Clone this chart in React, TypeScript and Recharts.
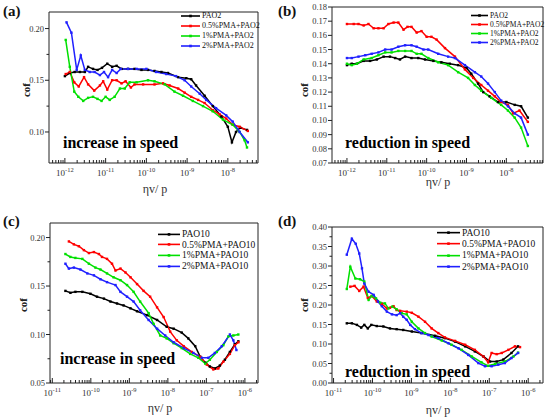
import { LineChart, Line, XAxis, YAxis, Legend } from "recharts";

const SERIF = '"Liberation Serif", "Times New Roman", serif';
const AX = "#222";

const COLORS = ["#000000", "#ff0000", "#00e000", "#2020ff"];
const NAMES_PAO2 = ["PAO2", "0.5%PMA+PAO2", "1%PMA+PAO2", "2%PMA+PAO2"];
const NAMES_PAO10 = ["PAO10", "0.5%PMA+PAO10", "1%PMA+PAO10", "2%PMA+PAO10"];

// x tick exponents and y ticks
const X_TICKS_AB = [-12, -11, -10, -9, -8];
const X_TICKS_CD = [-11, -10, -9, -8, -7, -6];
const Y_TICKS_A = [0.1, 0.15, 0.2];
const Y_TICKS_B = [0.07, 0.08, 0.09, 0.1, 0.11, 0.12, 0.13, 0.14, 0.15, 0.16, 0.17, 0.18];
const Y_TICKS_C = [0.05, 0.1, 0.15, 0.2];
const Y_TICKS_D = [0, 0.05, 0.1, 0.15, 0.2, 0.25, 0.3, 0.35, 0.4];

type Pt = [number, number]; // [log10(ηv/p), cof]

// (a) increase in speed, PAO2
const A_PAO2: Pt[] = [
  [-12.0, 0.154], [-11.88, 0.157], [-11.76, 0.158], [-11.63, 0.158], [-11.51, 0.158], [-11.43, 0.163],
  [-11.31, 0.161], [-11.2, 0.16], [-11.09, 0.162], [-10.96, 0.166], [-10.84, 0.163], [-10.73, 0.164],
  [-10.61, 0.161], [-10.45, 0.161], [-10.29, 0.161], [-10.12, 0.16], [-9.96, 0.16], [-9.8, 0.159],
  [-9.63, 0.158], [-9.47, 0.157], [-9.22, 0.153], [-9.02, 0.152], [-8.9, 0.151], [-8.78, 0.145],
  [-8.57, 0.135], [-8.37, 0.125], [-8.16, 0.115], [-8.0, 0.105], [-7.9, 0.09], [-7.8, 0.1],
  [-7.7, 0.104], [-7.53, 0.102],
];
const A_05: Pt[] = [
  [-11.98, 0.156], [-11.88, 0.158], [-11.77, 0.148], [-11.66, 0.144], [-11.53, 0.153], [-11.43, 0.146],
  [-11.28, 0.14], [-11.14, 0.145], [-11.06, 0.149], [-10.96, 0.141], [-10.84, 0.15], [-10.73, 0.15],
  [-10.61, 0.147], [-10.51, 0.149], [-10.38, 0.143], [-10.29, 0.146], [-10.08, 0.146], [-9.8, 0.146],
  [-9.59, 0.147], [-9.43, 0.145], [-9.22, 0.142], [-9.06, 0.138], [-8.9, 0.134], [-8.73, 0.131],
  [-8.57, 0.128], [-8.37, 0.121], [-8.2, 0.117], [-8.04, 0.113], [-7.88, 0.107], [-7.71, 0.105],
  [-7.51, 0.101],
];
const A_1: Pt[] = [
  [-11.98, 0.189], [-11.88, 0.163], [-11.77, 0.139], [-11.67, 0.134], [-11.55, 0.13], [-11.43, 0.133],
  [-11.31, 0.134], [-11.2, 0.132], [-11.1, 0.13], [-11.0, 0.134], [-10.9, 0.131], [-10.78, 0.134],
  [-10.65, 0.142], [-10.53, 0.142], [-10.41, 0.148], [-10.24, 0.148], [-9.96, 0.15], [-9.8, 0.149],
  [-9.55, 0.146], [-9.31, 0.139], [-9.1, 0.135], [-8.86, 0.13], [-8.61, 0.125], [-8.37, 0.12],
  [-8.12, 0.112], [-7.88, 0.107], [-7.71, 0.1], [-7.59, 0.092], [-7.53, 0.085],
];
const A_2: Pt[] = [
  [-11.96, 0.206], [-11.84, 0.196], [-11.71, 0.16], [-11.61, 0.174], [-11.51, 0.16], [-11.39, 0.158],
  [-11.27, 0.158], [-11.14, 0.155], [-11.04, 0.158], [-10.94, 0.153], [-10.84, 0.16], [-10.73, 0.157],
  [-10.63, 0.161], [-10.45, 0.161], [-10.24, 0.161], [-10.0, 0.161], [-9.76, 0.158], [-9.51, 0.156],
  [-9.27, 0.154], [-9.06, 0.15], [-8.9, 0.144], [-8.69, 0.137], [-8.53, 0.131], [-8.29, 0.123],
  [-8.04, 0.116], [-7.88, 0.11], [-7.71, 0.1], [-7.51, 0.09],
];

// (b) reduction in speed, PAO2
const B_PAO2: Pt[] = [
  [-12.0, 0.139], [-11.88, 0.14], [-11.75, 0.14], [-11.58, 0.142], [-11.42, 0.142], [-11.25, 0.143],
  [-11.08, 0.145], [-10.92, 0.145], [-10.79, 0.144], [-10.67, 0.143], [-10.54, 0.145], [-10.38, 0.144],
  [-10.21, 0.144], [-10.04, 0.143], [-9.83, 0.142], [-9.63, 0.141], [-9.42, 0.14], [-9.21, 0.139],
  [-9.0, 0.137], [-8.88, 0.133], [-8.71, 0.126], [-8.58, 0.12], [-8.42, 0.117], [-8.21, 0.113],
  [-8.0, 0.113], [-7.79, 0.111], [-7.63, 0.11], [-7.46, 0.102],
];
const B_05: Pt[] = [
  [-12.0, 0.168], [-11.83, 0.168], [-11.71, 0.168], [-11.58, 0.167], [-11.46, 0.168], [-11.33, 0.165],
  [-11.21, 0.165], [-11.08, 0.165], [-10.96, 0.168], [-10.83, 0.169], [-10.71, 0.169], [-10.58, 0.164],
  [-10.48, 0.166], [-10.38, 0.166], [-10.25, 0.162], [-10.13, 0.163], [-10.0, 0.159], [-9.88, 0.159],
  [-9.75, 0.157], [-9.54, 0.151], [-9.29, 0.145], [-9.04, 0.136], [-8.83, 0.13], [-8.63, 0.125],
  [-8.46, 0.121], [-8.29, 0.117], [-8.13, 0.113], [-7.96, 0.111], [-7.83, 0.105], [-7.67, 0.107],
  [-7.46, 0.099],
];
const B_1: Pt[] = [
  [-12.0, 0.14], [-11.88, 0.139], [-11.75, 0.14], [-11.58, 0.143], [-11.38, 0.144], [-11.21, 0.146],
  [-11.04, 0.148], [-10.88, 0.148], [-10.71, 0.149], [-10.54, 0.149], [-10.38, 0.149], [-10.25, 0.147],
  [-10.13, 0.147], [-9.96, 0.144], [-9.71, 0.141], [-9.46, 0.139], [-9.21, 0.134], [-8.96, 0.13],
  [-8.79, 0.125], [-8.63, 0.121], [-8.38, 0.116], [-8.13, 0.111], [-7.96, 0.107], [-7.79, 0.102],
  [-7.63, 0.095], [-7.46, 0.082],
];
const B_2: Pt[] = [
  [-12.0, 0.144], [-11.88, 0.144], [-11.71, 0.145], [-11.54, 0.146], [-11.38, 0.147], [-11.21, 0.148],
  [-11.04, 0.15], [-10.88, 0.15], [-10.71, 0.152], [-10.54, 0.153], [-10.38, 0.153], [-10.25, 0.152],
  [-10.08, 0.15], [-9.96, 0.15], [-9.71, 0.147], [-9.46, 0.145], [-9.29, 0.144], [-9.04, 0.139],
  [-8.79, 0.134], [-8.63, 0.131], [-8.46, 0.126], [-8.29, 0.12], [-8.13, 0.114], [-7.96, 0.11],
  [-7.79, 0.105], [-7.63, 0.102], [-7.46, 0.09],
];

// (c) increase in speed, PAO10
const C_PAO10: Pt[] = [
  [-10.66, 0.145], [-10.53, 0.143], [-10.4, 0.144], [-10.22, 0.144], [-10.01, 0.142], [-9.84, 0.139],
  [-9.66, 0.137], [-9.49, 0.134], [-9.32, 0.132], [-9.15, 0.13], [-8.97, 0.127], [-8.8, 0.124],
  [-8.54, 0.12], [-8.28, 0.115], [-8.03, 0.108], [-7.85, 0.106], [-7.64, 0.102], [-7.47, 0.096],
  [-7.29, 0.088], [-7.16, 0.077], [-7.03, 0.071], [-6.91, 0.067], [-6.78, 0.065], [-6.65, 0.068],
  [-6.52, 0.074], [-6.39, 0.082], [-6.26, 0.09], [-6.17, 0.093],
];
const C_05: Pt[] = [
  [-10.57, 0.196], [-10.44, 0.193], [-10.31, 0.191], [-10.18, 0.187], [-10.05, 0.184], [-9.92, 0.185],
  [-9.79, 0.183], [-9.71, 0.18], [-9.58, 0.178], [-9.45, 0.173], [-9.36, 0.166], [-9.23, 0.168],
  [-9.1, 0.164], [-8.97, 0.159], [-8.8, 0.152], [-8.63, 0.145], [-8.46, 0.139], [-8.28, 0.128],
  [-8.11, 0.118], [-7.94, 0.103], [-7.77, 0.094], [-7.59, 0.088], [-7.38, 0.082], [-7.16, 0.077],
  [-6.99, 0.069], [-6.82, 0.064], [-6.69, 0.065], [-6.56, 0.072], [-6.39, 0.08], [-6.26, 0.089],
  [-6.17, 0.092],
];
const C_1: Pt[] = [
  [-10.66, 0.183], [-10.53, 0.18], [-10.4, 0.179], [-10.22, 0.178], [-10.05, 0.173], [-9.88, 0.169],
  [-9.75, 0.167], [-9.58, 0.163], [-9.41, 0.159], [-9.23, 0.156], [-9.06, 0.151], [-8.89, 0.144],
  [-8.72, 0.134], [-8.5, 0.122], [-8.37, 0.111], [-8.2, 0.099], [-8.03, 0.096], [-7.85, 0.091],
  [-7.64, 0.086], [-7.42, 0.08], [-7.21, 0.076], [-7.03, 0.07], [-6.91, 0.074], [-6.73, 0.082],
  [-6.56, 0.089], [-6.43, 0.098], [-6.3, 0.099], [-6.17, 0.1],
];
const C_2: Pt[] = [
  [-10.66, 0.173], [-10.57, 0.168], [-10.44, 0.169], [-10.27, 0.167], [-10.09, 0.163], [-9.92, 0.161],
  [-9.75, 0.157], [-9.58, 0.154], [-9.36, 0.151], [-9.23, 0.144], [-9.06, 0.139], [-8.89, 0.134],
  [-8.72, 0.125], [-8.5, 0.115], [-8.28, 0.106], [-8.07, 0.099], [-7.85, 0.092], [-7.59, 0.086],
  [-7.34, 0.081], [-7.12, 0.076], [-6.95, 0.076], [-6.78, 0.081], [-6.6, 0.088], [-6.39, 0.1],
  [-6.3, 0.094], [-6.22, 0.084],
];

// (d) reduction in speed, PAO10
const D_PAO10: Pt[] = [
  [-10.66, 0.153], [-10.53, 0.153], [-10.4, 0.149], [-10.29, 0.142], [-10.21, 0.149], [-10.12, 0.14],
  [-10.03, 0.149], [-9.89, 0.146], [-9.72, 0.145], [-9.55, 0.14], [-9.38, 0.138], [-9.21, 0.136],
  [-8.99, 0.132], [-8.74, 0.128], [-8.39, 0.121], [-8.14, 0.115], [-7.88, 0.106], [-7.62, 0.094],
  [-7.37, 0.081], [-7.15, 0.068], [-6.98, 0.055], [-6.81, 0.055], [-6.64, 0.06], [-6.43, 0.077],
  [-6.26, 0.094],
];
const D_05: Pt[] = [
  [-10.57, 0.247], [-10.46, 0.249], [-10.34, 0.236], [-10.23, 0.247], [-10.12, 0.218], [-10.02, 0.223],
  [-9.89, 0.209], [-9.76, 0.203], [-9.63, 0.191], [-9.55, 0.193], [-9.46, 0.197], [-9.38, 0.187],
  [-9.29, 0.185], [-9.12, 0.183], [-8.99, 0.18], [-8.82, 0.17], [-8.65, 0.157], [-8.48, 0.14],
  [-8.31, 0.128], [-8.14, 0.117], [-7.88, 0.108], [-7.62, 0.098], [-7.37, 0.085], [-7.15, 0.068],
  [-7.03, 0.053], [-6.94, 0.077], [-6.81, 0.074], [-6.68, 0.077], [-6.51, 0.085], [-6.34, 0.094],
  [-6.21, 0.092],
];
const D_1: Pt[] = [
  [-10.66, 0.241], [-10.57, 0.298], [-10.44, 0.268], [-10.32, 0.266], [-10.21, 0.26], [-10.1, 0.213],
  [-10.02, 0.223], [-9.91, 0.217], [-9.8, 0.206], [-9.68, 0.204], [-9.59, 0.191], [-9.49, 0.196],
  [-9.38, 0.189], [-9.25, 0.179], [-9.12, 0.176], [-8.99, 0.157], [-8.82, 0.14], [-8.65, 0.128],
  [-8.48, 0.119], [-8.22, 0.109], [-7.97, 0.098], [-7.71, 0.085], [-7.45, 0.068], [-7.2, 0.053],
  [-7.03, 0.044], [-6.85, 0.049], [-6.6, 0.055], [-6.38, 0.068], [-6.26, 0.078],
];
const D_2: Pt[] = [
  [-10.66, 0.329], [-10.53, 0.37], [-10.43, 0.357], [-10.34, 0.332], [-10.27, 0.294], [-10.21, 0.255],
  [-10.1, 0.234], [-9.97, 0.226], [-9.86, 0.209], [-9.76, 0.197], [-9.63, 0.183], [-9.5, 0.176],
  [-9.38, 0.174], [-9.29, 0.179], [-9.21, 0.17], [-9.12, 0.162], [-9.03, 0.149], [-8.91, 0.138],
  [-8.74, 0.128], [-8.56, 0.123], [-8.31, 0.115], [-8.05, 0.102], [-7.79, 0.089], [-7.54, 0.072],
  [-7.28, 0.051], [-7.11, 0.043], [-6.94, 0.043], [-6.77, 0.047], [-6.6, 0.051], [-6.43, 0.064],
  [-6.26, 0.077],
];

const toRows = (pts: Pt[]) => pts.map(([e, v]) => ({ x: 10 ** e, y: v }));

// major + minor log ticks across the exponent range
const logTicks = (majors: number[], lo: number, hi: number) => {
  const out: number[] = [];
  for (let e = majors[0] - 1; e <= majors[majors.length - 1]; e++) {
    for (let m = 1; m <= 9; m++) {
      const v = m * 10 ** e;
      if (v >= lo && v <= hi) out.push(v);
    }
  }
  return out;
};

// one minor tick halfway between labelled ticks
const withMinor = (majors: number[], minor: boolean) => {
  if (!minor) return majors;
  const out: number[] = [];
  majors.forEach((v, i) => {
    out.push(v);
    if (i < majors.length - 1) out.push((v + majors[i + 1]) / 2);
  });
  return out;
};

const XTick = (props: any) => {
  const { x, y, payload } = props;
  const e = Math.log10(payload.value);
  const major = Math.abs(e - Math.round(e)) < 1e-6;
  return (
    <g>
      <line x1={x} x2={x} y1={y} y2={y - (major ? 5 : 3)} stroke={AX} strokeWidth={1} />
      {major && (
        <text x={x} y={y + 13} textAnchor="middle" fontFamily={SERIF} fontSize={9} fill="#333">
          10<tspan dy={-4} fontSize={6.5}>{Math.round(e)}</tspan>
        </text>
      )}
    </g>
  );
};

const makeYTick = (labelled: number[]) => (props: any) => {
  const { x, y, payload } = props;
  const v = Number(payload.value);
  const major = labelled.some((t) => Math.abs(t - v) < 1e-9);
  return (
    <g>
      <line x1={x - (major ? 4 : 2.5)} x2={x} y1={y} y2={y} stroke={AX} strokeWidth={1} />
      {major && (
        <text x={x - 5} y={y} dy={3} textAnchor="end" fontFamily={SERIF} fontSize={8.5} fill="#333">
          {v.toFixed(2)}
        </text>
      )}
    </g>
  );
};

const SquareDot = (props: any) => {
  const { cx, cy, stroke, index } = props;
  if (cx == null || cy == null) return <g key={index} />;
  return <rect key={index} x={cx - 1.2} y={cy - 1.2} width={2.4} height={2.4} fill={stroke} />;
};

interface PanelProps {
  left: number;
  top: number;
  height: number;
  tag: string;
  note: string;
  names: string[];
  series: Pt[][];
  xExp: [number, number];
  xTicks: number[];
  yDomain: [number, number];
  yTicks: number[];
  yMinor: boolean;
  margin: { top: number; right: number; bottom: number; left: number };
  legend: { left: number; top: number; row: number; line: number; font: number };
  notePos: [number, number];
  cofPos: [number, number];
  xLabelPos: [number, number];
}

function Panel(p: PanelProps) {
  const W = 275;
  const xDomain: [number, number] = [10 ** p.xExp[0], 10 ** p.xExp[1]];
  const ticks = logTicks(p.xTicks, xDomain[0], xDomain[1]);
  const YTick = makeYTick(p.yTicks);
  // axes take 1px each, margins are reduced to keep the plot box in place
  const m = { top: p.margin.top - 1, right: p.margin.right - 1, bottom: p.margin.bottom - 1, left: p.margin.left - 1 };
  return (
    <div style={{ position: "absolute", left: p.left, top: p.top, width: W, height: p.height }}>
      <LineChart width={W} height={p.height} margin={m}>
        <XAxis
          dataKey="x"
          type="number"
          scale="log"
          domain={xDomain}
          allowDataOverflow
          ticks={ticks}
          interval={0}
          height={1}
          tickSize={0}
          tickMargin={0}
          tickLine={false}
          tick={<XTick />}
          axisLine={{ stroke: AX }}
        />
        <XAxis
          xAxisId="top"
          orientation="top"
          dataKey="x"
          type="number"
          scale="log"
          domain={xDomain}
          allowDataOverflow
          height={1}
          tick={false}
          tickLine={false}
          axisLine={{ stroke: AX }}
        />
        <YAxis
          type="number"
          domain={p.yDomain}
          allowDataOverflow
          ticks={withMinor(p.yTicks, p.yMinor)}
          interval={0}
          width={1}
          tickSize={0}
          tickMargin={0}
          tickLine={false}
          tick={<YTick />}
          axisLine={{ stroke: AX }}
        />
        <YAxis
          yAxisId="right"
          orientation="right"
          type="number"
          domain={p.yDomain}
          allowDataOverflow
          width={1}
          tick={false}
          tickLine={false}
          axisLine={{ stroke: AX }}
        />
        {p.series.map((s, i) => (
          <Line
            key={p.names[i]}
            data={toRows(s)}
            dataKey="y"
            name={p.names[i]}
            type="linear"
            stroke={COLORS[i]}
            strokeWidth={1.5}
            dot={SquareDot}
            isAnimationActive={false}
          />
        ))}
        <Legend
          layout="horizontal"
          verticalAlign="middle"
          align="center"
          wrapperStyle={{ left: p.legend.left, top: p.legend.top, width: "auto", height: "auto" }}
          content={() => (
            <div style={{ fontFamily: SERIF, fontSize: p.legend.font, color: "#111" }}>
              {p.names.map((n, i) => (
                <div key={n} style={{ display: "flex", alignItems: "center", height: p.legend.row, whiteSpace: "nowrap" }}>
                  <svg width={p.legend.line} height={p.legend.row} style={{ display: "block" }}>
                    <line x1={0} x2={p.legend.line} y1={p.legend.row / 2} y2={p.legend.row / 2} stroke={COLORS[i]} strokeWidth={1.6} />
                    <rect x={p.legend.line / 2 - 1.3} y={p.legend.row / 2 - 1.3} width={2.6} height={2.6} fill={COLORS[i]} />
                  </svg>
                  <span style={{ marginLeft: 2 }}>{n}</span>
                </div>
              ))}
            </div>
          )}
        />
      </LineChart>
      <svg
        width={W}
        height={p.height}
        style={{ position: "absolute", left: 0, top: 0, pointerEvents: "none" }}
      >
        <text x={3} y={16} fontFamily={SERIF} fontWeight="bold" fontSize={15} fill="#111">
          {p.tag}
        </text>
        <text x={p.notePos[0]} y={p.notePos[1]} fontFamily={SERIF} fontWeight="bold" fontSize={16} fill="#000">
          {p.note}
        </text>
        <text
          x={p.cofPos[0]}
          y={p.cofPos[1]}
          transform={`rotate(-90 ${p.cofPos[0]} ${p.cofPos[1]})`}
          textAnchor="middle"
          fontFamily={SERIF}
          fontWeight="bold"
          fontSize={11}
          fill="#222"
        >
          cof
        </text>
        <text x={p.xLabelPos[0]} y={p.xLabelPos[1]} textAnchor="middle" fontFamily={SERIF} fontSize={12} fill="#333">
          ηv/ p
        </text>
      </svg>
    </div>
  );
}

export default function App() {
  return (
    <div style={{ position: "absolute", left: 0, top: 0, width: 550, height: 418, background: "#fff", overflow: "hidden" }}>
      <Panel
        left={0}
        top={0}
        height={210}
        tag="(a)"
        note="increase in speed"
        names={NAMES_PAO2}
        series={[A_PAO2, A_05, A_1, A_2]}
        xExp={[-12.39, -7.26]}
        xTicks={X_TICKS_AB}
        yDomain={[0.07, 0.216]}
        yTicks={Y_TICKS_A}
        yMinor
        margin={{ top: 12, right: 17, bottom: 47, left: 49 }}
        legend={{ left: 181, top: 10.5, row: 10, line: 19, font: 8 }}
        notePos={[63, 148]}
        cofPos={[30, 90]}
        xLabelPos={[155, 193]}
      />
      <Panel
        left={275}
        top={0}
        height={210}
        tag="(b)"
        note="reduction in speed"
        names={NAMES_PAO2}
        series={[B_PAO2, B_05, B_1, B_2]}
        xExp={[-12.375, -7.08]}
        xTicks={X_TICKS_AB}
        yDomain={[0.07, 0.18]}
        yTicks={Y_TICKS_B}
        yMinor={false}
        margin={{ top: 7, right: 7, bottom: 47, left: 57 }}
        legend={{ left: 196, top: 10.5, row: 9, line: 17, font: 7.5 }}
        notePos={[70, 148]}
        cofPos={[33, 90]}
        xLabelPos={[163, 186]}
      />
      <Panel
        left={0}
        top={210}
        height={208}
        tag="(c)"
        note="increase in speed"
        names={NAMES_PAO10}
        series={[C_PAO10, C_05, C_1, C_2]}
        xExp={[-11.06, -5.66]}
        xTicks={X_TICKS_CD}
        yDomain={[0.05, 0.215]}
        yTicks={Y_TICKS_C}
        yMinor
        margin={{ top: 13, right: 17, bottom: 35, left: 50 }}
        legend={{ left: 158, top: 18.5, row: 10.8, line: 22, font: 9.5 }}
        notePos={[60, 154]}
        cofPos={[27, 95]}
        xLabelPos={[160, 202]}
      />
      <Panel
        left={275}
        top={210}
        height={208}
        tag="(d)"
        note="reduction in speed"
        names={NAMES_PAO10}
        series={[D_PAO10, D_05, D_1, D_2]}
        xExp={[-11.04, -5.62]}
        xTicks={X_TICKS_CD}
        yDomain={[0, 0.4]}
        yTicks={Y_TICKS_D}
        yMinor
        margin={{ top: 17, right: 7, bottom: 35, left: 57 }}
        legend={{ left: 162, top: 17, row: 11.3, line: 23, font: 9.5 }}
        notePos={[70, 167]}
        cofPos={[33, 95]}
        xLabelPos={[163, 204]}
      />
    </div>
  );
}
